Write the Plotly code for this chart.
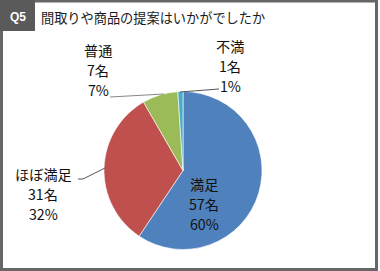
import plotly.graph_objects as go

# ---- data ----
categories = ["満足", "ほぼ満足", "普通", "不満"]
counts = [57, 31, 7, 1]
percent_labels = ["60%", "32%", "7%", "1%"]
colors = ["#4F81BD", "#C0504D", "#9BBB59", "#4BACC6"]
title_text = "間取りや商品の提案はいかがでしたか"
q_label = "Q5"

W, H = 380, 271
FONT = "Noto Sans CJK JP, Meiryo, sans-serif"

def px(x):
    return x / W

def py(y):
    return 1 - y / H

# pie geometry (pixels)
cx, cy, r = 183, 170.5, 79

fig = go.Figure()
fig.add_trace(go.Pie(
    labels=categories,
    values=counts,
    sort=False,
    direction="clockwise",
    rotation=0,
    marker=dict(colors=colors, line=dict(color="white", width=0.6)),
    textinfo="none",
    hoverinfo="label+value+percent",
    showlegend=False,
    domain=dict(x=[px(cx - r), px(cx + r)], y=[py(cy + r), py(cy - r)]),
))

# label positions: (center x, y of first line) in pixels; lines 20px apart
label_pos = {
    "満足": (204, 184),
    "ほぼ満足": (43, 174),
    "普通": (98, 50),
    "不満": (230, 46),
}
LINE_GAP = 20

annotations = []
for cat, n, pct in zip(categories, counts, percent_labels):
    x, y0 = label_pos[cat]
    for i, line in enumerate([cat, f"{n}名", pct]):
        annotations.append(dict(
            x=px(x), y=py(y0 + i * LINE_GAP), xref="paper", yref="paper",
            text=line, showarrow=False, align="center",
            xanchor="center", yanchor="middle", borderpad=0,
            font=dict(family=FONT, size=14.2, color="#111111"),
        ))

# title
annotations.append(dict(
    x=px(39), y=py(18), xref="paper", yref="paper",
    text=title_text, showarrow=False,
    xanchor="left", yanchor="middle",
    font=dict(family=FONT, size=13.2, color="#1a1a1a"),
))
annotations.append(dict(
    x=px(18), y=py(17), xref="paper", yref="paper",
    text=f"<b>{q_label}</b>", showarrow=False,
    xanchor="center", yanchor="middle",
    font=dict(family="Arial, Liberation Sans, sans-serif", size=12, color="white"),
))

shapes = [
    # outer frame
    dict(type="rect", xref="paper", yref="paper",
         x0=px(1.5), x1=px(376.5), y0=py(269.5), y1=py(1.0),
         line=dict(color="#666666", width=3), fillcolor="rgba(0,0,0,0)"),
    # Q box
    dict(type="rect", xref="paper", yref="paper",
         x0=px(0), x1=px(35), y0=py(31), y1=py(0),
         line=dict(width=0), fillcolor="#5a5a5a"),
    # leader lines
    dict(type="path", xref="paper", yref="paper",
         path=f"M {px(110)} {py(97)} L {px(164)} {py(94)}",
         line=dict(color="#888888", width=1)),
    dict(type="path", xref="paper", yref="paper",
         path=f"M {px(180)} {py(92)} L {px(219)} {py(89)}",
         line=dict(color="#555555", width=1)),
    dict(type="path", xref="paper", yref="paper",
         path=f"M {px(78)} {py(179)} L {px(83)} {py(179)} L {px(105)} {py(168)}",
         line=dict(color="#555555", width=1)),
]

fig.update_layout(
    width=W, height=H,
    margin=dict(l=0, r=0, t=0, b=0),
    paper_bgcolor="white", plot_bgcolor="white",
    annotations=annotations, shapes=shapes,
)

fig.write_html("out.html")
